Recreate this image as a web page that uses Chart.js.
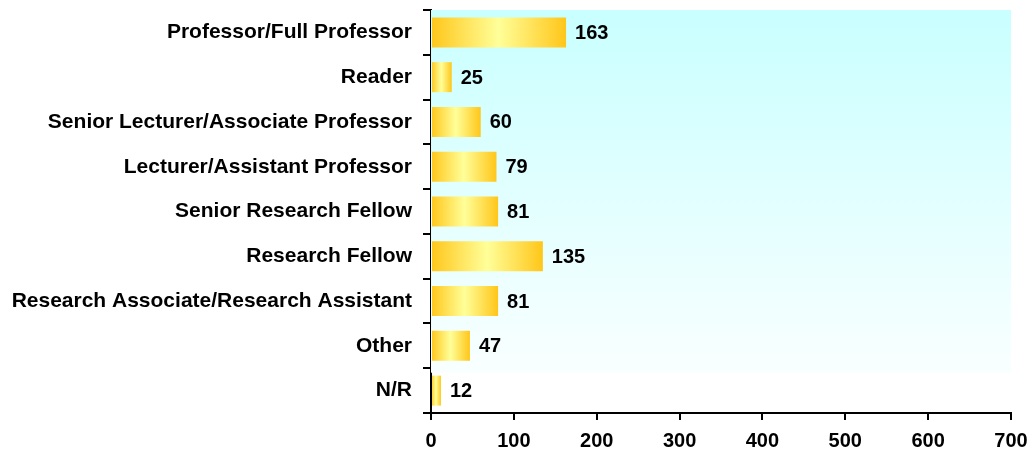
<!DOCTYPE html>
<html>
<head>
<meta charset="utf-8">
<script src="https://cdn.jsdelivr.net/npm/chart.js@4/dist/chart.umd.min.js"></script>
<style>
  html, body { margin: 0; padding: 0; background: #ffffff; }
  #wrap { width: 1031px; height: 457px; position: relative; }
</style>
</head>
<body>
<div id="wrap"><canvas id="c" width="1031" height="457"></canvas></div>
<script>
const categories = [
  "Professor/Full Professor",
  "Reader",
  "Senior Lecturer/Associate Professor",
  "Lecturer/Assistant Professor",
  "Senior Research Fellow",
  "Research Fellow",
  "Research Associate/Research Assistant",
  "Other",
  "N/R"
];
const counts = [163, 25, 60, 79, 81, 135, 81, 47, 12];
const xTicks = [0, 100, 200, 300, 400, 500, 600, 700];

const FONT = "'Liberation Sans', Arial, sans-serif";

const bgPlugin = {
  id: 'bgPlugin',
  beforeDatasetsDraw(chart) {
    const { ctx, chartArea } = chart;
    const bandH = (chartArea.bottom - chartArea.top) / categories.length;
    const bottom = chartArea.bottom - bandH * 0.9;
    const g = ctx.createLinearGradient(0, chartArea.top, 0, bottom);
    g.addColorStop(0, '#c9ffff');
    g.addColorStop(1, '#f9ffff');
    ctx.save();
    ctx.fillStyle = g;
    ctx.fillRect(chartArea.left, chartArea.top, chartArea.right - chartArea.left, bottom - chartArea.top);
    ctx.restore();
  }
};

const labelPlugin = {
  id: 'labelPlugin',
  afterDatasetsDraw(chart) {
    const { ctx } = chart;
    const meta = chart.getDatasetMeta(0);
    ctx.save();
    ctx.font = "bold 20px " + FONT;
    ctx.fillStyle = '#000';
    ctx.textAlign = 'left';
    ctx.textBaseline = 'middle';
    meta.data.forEach((bar, i) => {
      ctx.fillText(String(counts[i]), bar.x + 9, bar.y + 1);
    });
    ctx.restore();
  }
};

function barGradient(context) {
  const chart = context.chart;
  if (!chart.chartArea) return '#ffcc33';
  const x0 = chart.scales.x.getPixelForValue(0);
  const x1 = chart.scales.x.getPixelForValue(counts[context.dataIndex]);
  if (!(x1 > x0)) return '#ffcc33';
  const g = chart.ctx.createLinearGradient(x0, 0, x1, 0);
  g.addColorStop(0, '#ffc619');
  g.addColorStop(0.5, '#ffff99');
  g.addColorStop(1, '#ffc619');
  return g;
}

new Chart(document.getElementById('c'), {
  type: 'bar',
  data: {
    labels: categories,
    datasets: [{
      data: counts,
      backgroundColor: barGradient,
      borderWidth: 0,
      categoryPercentage: 1,
      barPercentage: 0.67
    }]
  },
  options: {
    indexAxis: 'y',
    responsive: false,
    animation: false,
    events: [],
    layout: { padding: { top: 10, right: 20, left: 0, bottom: 0 } },
    plugins: { legend: { display: false }, tooltip: { enabled: false } },
    scales: {
      x: {
        type: 'linear',
        min: 0, max: 700,
        afterBuildTicks(scale) { scale.ticks = xTicks.map(v => ({ value: v })); },
        afterFit(scale) { scale.height = 44; scale.paddingLeft = 0; scale.paddingRight = 0; },
        border: { display: true, color: '#000', width: 2 },
        grid: { drawOnChartArea: false, drawTicks: true, tickLength: 7, color: '#000', lineWidth: 2 },
        ticks: { color: '#000', font: { family: FONT, size: 20, weight: 'bold' }, padding: 9 }
      },
      y: {
        type: 'category',
        afterFit(scale) { scale.width = 431; scale.paddingTop = 0; scale.paddingBottom = 0; },
        border: { display: true, color: '#000', width: 2 },
        grid: { offset: true, drawOnChartArea: false, drawTicks: true, tickLength: 8, color: '#000', lineWidth: 2 },
        ticks: { color: '#000', font: { family: FONT, size: 21, weight: 'bold' }, padding: 11, autoSkip: false }
      }
    }
  },
  plugins: [bgPlugin, labelPlugin]
});
</script>
</body>
</html>
